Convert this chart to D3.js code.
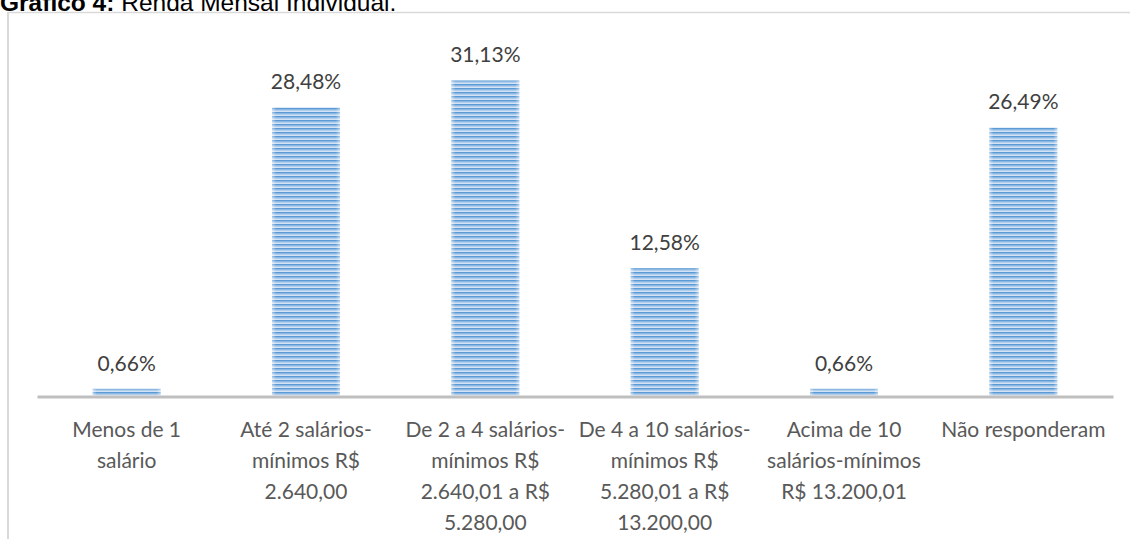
<!DOCTYPE html>
<html><head><meta charset="utf-8">
<script src="https://cdn.jsdelivr.net/npm/d3@7"></script>
<style>html,body{margin:0;padding:0;background:#fff;overflow:hidden}</style>
</head><body>
<svg id="chart" width="1130" height="539"></svg>
<script>
const categories = ["c1","c2","c3","c4","c5","c6"];
const values = [0.66, 28.48, 31.13, 12.58, 0.66, 26.49];
const valueLabels = ["0,66%","28,48%","31,13%","12,58%","0,66%","26,49%"];
const tickLabels = [
  ["Menos de 1","salário"],
  ["Até 2 salários-","mínimos R$","2.640,00"],
  ["De 2 a 4 salários-","mínimos R$","2.640,01 a R$","5.280,00"],
  ["De 4 a 10 salários-","mínimos R$","5.280,01 a R$","13.200,00"],
  ["Acima de 10","salários-mínimos","R$ 13.200,01"],
  ["Não responderam"]
];
const titleBold = "Gráfico 4:";
const titleRest = " Renda Mensal Individual.";

const svg = d3.select("#chart");
const defs = svg.append("defs");
const pat = defs.append("pattern").attr("id","stripes").attr("patternUnits","userSpaceOnUse")
  .attr("width",8).attr("height",4);
pat.append("rect").attr("width",8).attr("height",4).attr("fill","#d3e3f5");
pat.append("rect").attr("y",0).attr("width",8).attr("height",1.6).attr("fill","#5b9bd5");
pat.append("rect").attr("y",1.6).attr("width",8).attr("height",0.9).attr("fill","#8fb8e4");
const edge = defs.append("linearGradient").attr("id","edge").attr("x1",0).attr("x2",1).attr("y1",0).attr("y2",0);
edge.append("stop").attr("offset","0").attr("stop-color","#fff").attr("stop-opacity",0.45);
edge.append("stop").attr("offset","0.06").attr("stop-color","#fff").attr("stop-opacity",0);
edge.append("stop").attr("offset","0.94").attr("stop-color","#fff").attr("stop-opacity",0);
edge.append("stop").attr("offset","1").attr("stop-color","#fff").attr("stop-opacity",0.45);

// frame
svg.append("line").attr("x1",8).attr("x2",8).attr("y1",12).attr("y2",539).attr("stroke","#d9d9d9").attr("stroke-width",2);
svg.append("line").attr("x1",8).attr("x2",1130).attr("y1",12.5).attr("y2",12.5).attr("stroke","#d9d9d9").attr("stroke-width",1.5);

// title (cut at top)
const t = svg.append("text").attr("x",0).attr("y",10.5).attr("font-family","Liberation Sans, Arial, sans-serif")
  .attr("font-size",24.5).attr("fill","#000");
t.append("tspan").attr("font-weight","bold").text(titleBold);
t.append("tspan").text(titleRest);

const x = d3.scaleBand().domain(categories).range([37,1113]).paddingInner(0.621).paddingOuter(0.3105);
const y = d3.scaleLinear().domain([0,35]).range([395.5,41.3]);

const bars = svg.append("g");
bars.selectAll("rect.bar").data(values).join("rect").attr("class","bar")
  .attr("x",(d,i)=>x(categories[i])).attr("width",x.bandwidth())
  .attr("y",d=>y(d)).attr("height",d=>y(0)-y(d))
  .attr("fill","url(#stripes)");
bars.selectAll("rect.edge").data(values).join("rect").attr("class","edge")
  .attr("x",(d,i)=>x(categories[i])).attr("width",x.bandwidth())
  .attr("y",d=>y(d)).attr("height",d=>y(0)-y(d))
  .attr("fill","url(#edge)");

// axis
const axis = svg.append("g").attr("transform",`translate(0,${y(0)+1})`)
  .call(d3.axisBottom(x).tickSize(0).tickFormat(""));
axis.select(".domain").attr("stroke","#bfbfbf").attr("stroke-width",3);

// value labels
svg.selectAll("text.val").data(values).join("text").attr("class","val")
  .attr("x",(d,i)=>x(categories[i])+x.bandwidth()/2).attr("y",d=>y(d)-18)
  .attr("text-anchor","middle").attr("font-family","Lato, sans-serif").attr("font-size",21)
  .attr("fill","#404040").text((d,i)=>valueLabels[i]);

// category labels
const cl = svg.selectAll("text.cat").data(tickLabels).join("text").attr("class","cat")
  .attr("x",(d,i)=>x(categories[i])+x.bandwidth()/2).attr("y",437)
  .attr("text-anchor","middle").attr("font-family","Lato, sans-serif").attr("font-size",21)
  .attr("fill","#595959");
cl.each(function(lines,i){
  const cx = x(categories[i])+x.bandwidth()/2;
  d3.select(this).selectAll("tspan").data(lines).join("tspan")
    .attr("x",cx).attr("dy",(d,j)=>j===0?0:31).text(d=>d);
});
</script>
</body></html>
